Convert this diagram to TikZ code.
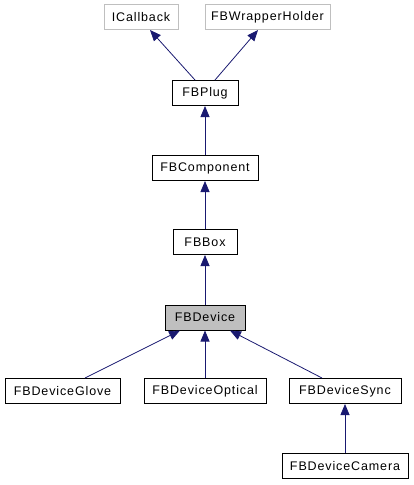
\documentclass[tikz,border=0pt]{standalone}
\usepackage{fontspec}
\setmainfont{Liberation Sans}
\newfontfamily\boxfont[LetterSpace=7]{Liberation Sans}
\usetikzlibrary{arrows.meta}
\definecolor{edgeblue}{HTML}{191970}
\definecolor{boxgray}{HTML}{BFBFBF}
\begin{document}
\begin{tikzpicture}[x=1pt,y=-1pt,
  cls/.style={draw=black, line width=1pt, rectangle, minimum height=25pt, inner sep=0pt, font=\boxfont\fontsize{12.5}{14}\selectfont, fill=white},
  ext/.style={cls, draw=boxgray},
  cur/.style={cls, fill=boxgray},
  inh/.style={draw=edgeblue, line width=0.8pt, -{Triangle[length=11pt,width=9pt]}}]
\useasboundingbox (0,0) rectangle (414,485);
\node[ext, minimum width=74pt] (icb) at (141,17) {ICallback};
\node[ext, minimum width=125pt] (fbw) at (267.5,17) {FBWrapperHolder};
\node[cls, minimum width=66pt] (plug) at (205,93) {FBPlug};
\node[cls, minimum width=106pt] (comp) at (205,168) {FBComponent};
\node[cls, minimum width=64pt] (box) at (205,242) {FBBox};
\node[cur, minimum width=80pt] (dev) at (205,317.5) {FBDevice};
\node[cls, minimum width=115pt] (glove) at (62.5,391) {FBDeviceGlove};
\node[cls, minimum width=122pt] (opt) at (205,391) {FBDeviceOptical};
\node[cls, minimum width=112pt] (sync) at (345,391) {FBDeviceSync};
\node[cls, minimum width=126pt] (cam) at (345,466) {FBDeviceCamera};
\draw[inh] ([xshift=-10pt]plug.north) -- ([xshift=9pt]icb.south);
\draw[inh] ([xshift=10pt]plug.north) -- ([xshift=-9.5pt]fbw.south);
\draw[inh] (comp.north) -- (plug.south);
\draw[inh] (box.north) -- (comp.south);
\draw[inh] (dev.north) -- (box.south);
\draw[inh] ([xshift=22.5pt]glove.north) -- ([xshift=-25pt]dev.south);
\draw[inh] (opt.north) -- (dev.south);
\draw[inh] ([xshift=-23pt]sync.north) -- ([xshift=25pt]dev.south);
\draw[inh] (cam.north) -- (sync.south);
\end{tikzpicture}
\end{document}
